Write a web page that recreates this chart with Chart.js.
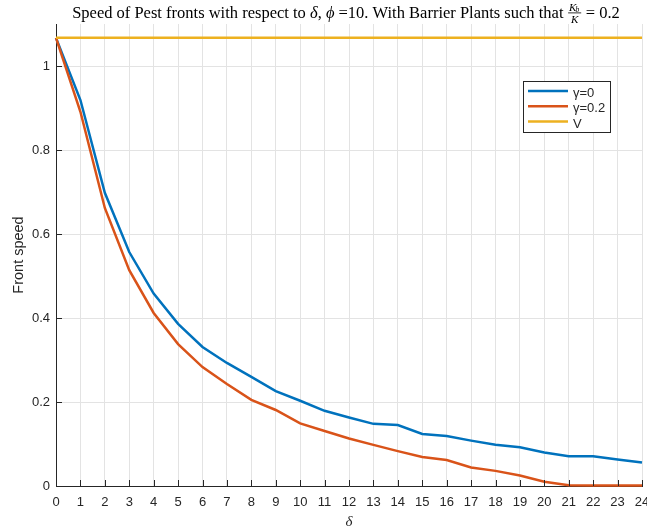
<!DOCTYPE html>
<html>
<head>
<meta charset="utf-8">
<script src="https://cdn.jsdelivr.net/npm/chart.js@4/dist/chart.umd.min.js"></script>
<style>
  html, body { margin: 0; padding: 0; background: #fff; }
  #c { display: block; }
</style>
</head>
<body>
<canvas id="c" width="647" height="529"></canvas>
<script>
// values
const deltas = [0, 1, 2, 3, 4, 5, 6, 7, 8, 9, 10, 11, 12, 13, 14, 15, 16, 17, 18, 19, 20, 21, 22, 23, 24];
const gammaZero = [1.067, 0.919, 0.698, 0.557, 0.458, 0.386, 0.331, 0.293, 0.260, 0.226, 0.203, 0.179, 0.163, 0.148, 0.145,
  0.124, 0.119, 0.108, 0.098, 0.092, 0.080, 0.071, 0.071, 0.063, 0.056];
const gammaPoint2 = [1.067, 0.891, 0.662, 0.514, 0.412, 0.338, 0.283, 0.243, 0.205, 0.181, 0.149, 0.131, 0.113, 0.098, 0.083,
  0.069, 0.062, 0.044, 0.036, 0.025, 0.010, 0.002, 0.001, 0.001, 0.001];
const vSpeed = [1.067, 1.067, 1.067, 1.067, 1.067, 1.067, 1.067, 1.067, 1.067, 1.067, 1.067, 1.067, 1.067, 1.067, 1.067,
  1.067, 1.067, 1.067, 1.067, 1.067, 1.067, 1.067, 1.067, 1.067, 1.067];
const seriesLabels = ['\u03b3=0', '\u03b3=0.2', 'V'];
const xTicks = deltas;
const yTicks = [0, 0.2, 0.4, 0.6, 0.8, 1];
const yTickLabels = ['0', '0.2', '0.4', '0.6', '0.8', '1'];

const COLORS = ['#0072BD', '#D95319', '#EDB120'];
const AXIS = '#262626';
const GRID = '#e3e3e3';
const SANS = '"Liberation Sans", Arial, Helvetica, sans-serif';
const SERIF = '"Liberation Serif", "DejaVu Serif", "Times New Roman", serif';

const pts = (ys) => deltas.map((d, i) => ({ x: d, y: ys[i] }));

// title with the little K_b / K fraction, like the LaTeX one
const titlePlugin = {
  id: 'latexTitle',
  afterDraw(chart) {
    const ctx = chart.ctx;
    const rm = '16.5px ' + SERIF;
    const it = 'italic 16.5px ' + SERIF;
    const fk = 'italic 11px ' + SERIF;
    const fb = 'italic 7.5px ' + SERIF;
    const parts = [
      [rm, 'Speed of Pest fronts with respect to '], [it, '\u03b4'], [rm, ', '], [it, '\u03d5'],
      [rm, ' =10. With Barrier Plants such that '], ['frac'], [rm, ' = 0.2']
    ];
    ctx.save();
    ctx.fillStyle = '#000';
    ctx.textBaseline = 'alphabetic';
    const w = (f, t) => { ctx.font = f; return ctx.measureText(t).width; };
    const fracW = Math.max(w(fk, 'K') + w(fb, 'b'), w(fk, 'K')) + 3;
    let total = 0;
    parts.forEach(p => { total += p[0] === 'frac' ? fracW : w(p[0], p[1]); });
    let x = 346 - total / 2;
    const base = 17.5;
    parts.forEach(p => {
      if (p[0] === 'frac') {
        ctx.font = fk;
        ctx.fillText('K', x + 1.5, base - 7);
        const kw = ctx.measureText('K').width;
        ctx.font = fb;
        ctx.fillText('b', x + 1.5 + kw - 1, base - 5.5);
        ctx.fillRect(x + 0.5, base - 5, fracW - 1, 0.8);
        ctx.font = fk;
        ctx.fillText('K', x + (fracW - kw) / 2, base + 5);
        x += fracW;
      } else {
        ctx.font = p[0];
        ctx.fillText(p[1], x, base);
        x += ctx.measureText(p[1]).width;
      }
    });
    ctx.restore();
  }
};

// MATLAB style ticks pointing into the axes
const innerTicks = {
  id: 'innerTicks',
  afterDraw(chart) {
    const ctx = chart.ctx;
    const a = chart.chartArea;
    const xs = chart.scales.x, ys = chart.scales.y;
    ctx.save();
    ctx.strokeStyle = AXIS;
    ctx.lineWidth = 1;
    ctx.beginPath();
    xTicks.forEach(v => {
      const px = Math.round(xs.getPixelForValue(v)) + 0.5;
      ctx.moveTo(px, a.bottom);
      ctx.lineTo(px, a.bottom - 6);
    });
    yTicks.forEach(v => {
      const py = Math.round(ys.getPixelForValue(v)) + 0.5;
      ctx.moveTo(a.left, py);
      ctx.lineTo(a.left + 6, py);
    });
    ctx.stroke();
    ctx.restore();
  }
};

// boxed legend inside the axes, top right
const boxLegend = {
  id: 'boxLegend',
  afterDraw(chart) {
    const ctx = chart.ctx;
    const bx = 523, by = 81, bw = 87, bh = 51;
    ctx.save();
    ctx.fillStyle = '#fff';
    ctx.fillRect(bx, by, bw, bh);
    ctx.strokeStyle = AXIS;
    ctx.lineWidth = 1;
    ctx.strokeRect(bx + 0.5, by + 0.5, bw, bh);
    ctx.font = '13px ' + SANS;
    ctx.textBaseline = 'middle';
    seriesLabels.forEach((lab, i) => {
      const y = by + 10 + i * 15.3;
      ctx.strokeStyle = COLORS[i];
      ctx.lineWidth = 2.5;
      ctx.beginPath();
      ctx.moveTo(bx + 5, y);
      ctx.lineTo(bx + 45, y);
      ctx.stroke();
      ctx.fillStyle = AXIS;
      ctx.fillText(lab, bx + 50, y + 2.5);
    });
    ctx.restore();
  }
};

const mk = (label, ys, i, order) => ({
  label,
  data: pts(ys),
  borderColor: COLORS[i],
  backgroundColor: COLORS[i],
  borderWidth: 2.5,
  pointRadius: 0,
  tension: 0,
  clip: false,
  order
});

new Chart(document.getElementById('c'), {
  type: 'line',
  data: {
    datasets: [
      mk(seriesLabels[0], gammaZero, 0, 2),
      mk(seriesLabels[1], gammaPoint2, 1, 1),
      mk(seriesLabels[2], vSpeed, 2, 0)
    ]
  },
  options: {
    responsive: false,
    animation: false,
    devicePixelRatio: 1,
    layout: { padding: { top: 24, right: 5, left: 0, bottom: 0 } },
    plugins: { legend: { display: false }, tooltip: { enabled: false } },
    scales: {
      x: {
        type: 'linear',
        min: 0,
        max: 24,
        afterBuildTicks: (s) => { s.ticks = xTicks.map(v => ({ value: v })); },
        afterFit: (s) => { s.height = 43; s.paddingLeft = 0; s.paddingRight = 0; },
        ticks: { color: AXIS, font: { family: SANS, size: 13 }, padding: 9, maxRotation: 0, autoSkip: false,
          callback: (v) => String(v) },
        grid: { color: GRID, drawTicks: false },
        border: { color: AXIS, width: 1 },
        title: { display: true, text: '\u03b4', color: AXIS, font: { family: SERIF, size: 15, style: 'italic' },
          padding: { top: 0, bottom: -2 } }
      },
      y: {
        min: 0,
        max: 1.1,
        afterBuildTicks: (s) => { s.ticks = yTicks.map(v => ({ value: v })); },
        afterFit: (s) => { s.width = 56; s.paddingTop = 0; s.paddingBottom = 0; },
        ticks: { color: AXIS, font: { family: SANS, size: 13 }, padding: 6,
          callback: (v) => yTickLabels[yTicks.indexOf(v)] },
        grid: { color: GRID, drawTicks: false },
        border: { color: AXIS, width: 1 },
        title: { display: true, text: 'Front speed', color: AXIS, font: { family: SANS, size: 14.5 },
          padding: { top: 10, bottom: 0 } }
      }
    }
  },
  plugins: [innerTicks, boxLegend, titlePlugin]
});
</script>
</body>
</html>
